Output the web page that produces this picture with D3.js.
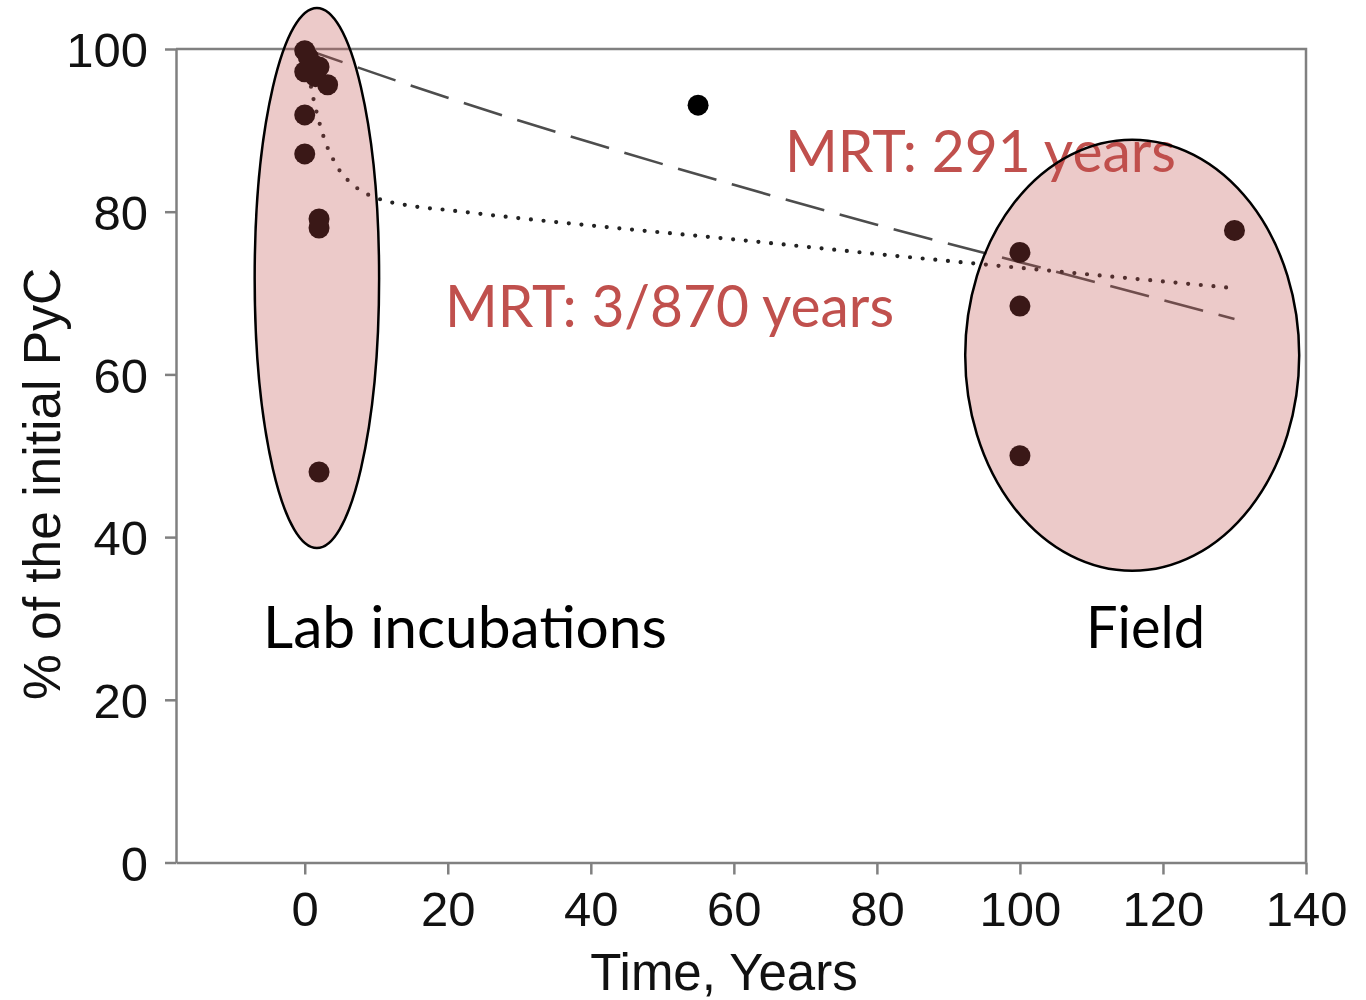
<!DOCTYPE html>
<html>
<head>
<meta charset="utf-8">
<script src="https://cdn.jsdelivr.net/npm/d3@7"></script>
<style>
  html, body { margin: 0; padding: 0; background: #fff; }
  svg { display: block; }
</style>
</head>
<body>
<svg id="chart" width="1366" height="1000"></svg>
<script>
// Observations: time since start (years) and % of the initial PyC remaining
const labTime    = [0, 0.5, 1, 0, 2, 1.5, 3.2, 0, 0, 2, 2, 2];
const labPercent = [99.8, 99.0, 98.2, 97.2, 97.8, 96.6, 95.6, 91.9, 87.1, 79.1, 78.0, 48.0];
const otherTime    = [55];
const otherPercent = [93.1];
const fieldTime    = [100, 100, 100, 130];
const fieldPercent = [75.0, 68.4, 50.0, 77.7];

// One-pool model curve (MRT 291 years), sampled
const onePoolTime    = [0, 20, 40, 60, 80, 100, 130];
const onePoolPercent = [100, 94.0, 88.5, 83.3, 78.4, 73.8, 66.8];

// Two-pool model curve (MRT 3 / 870 years), sampled
const twoPoolTime    = [0, 0.5, 1, 2, 3, 4, 5, 6, 8, 10, 15, 20, 30, 40, 60, 80, 100, 130];
const twoPoolPercent = [100, 97.2, 94.8, 91.1, 88.3, 86.4, 84.9, 83.9, 82.5, 81.7, 80.7, 80.2, 79.2, 78.3, 76.6, 74.8, 73.1, 70.6];

const xTicks = [0, 20, 40, 60, 80, 100, 120, 140];
const yTicks = [0, 20, 40, 60, 80, 100];

const svg = d3.select("#chart");
const axisFont = "'Liberation Sans', Arial, sans-serif";
const noteFont = "Lato, 'Open Sans', sans-serif";
const axisGrey = "#808080";
const noteRed = "#C0504D";

const x = d3.scaleLinear().domain([-18, 140]).range([176, 1306]);
const y = d3.scaleLinear().domain([0, 100]).range([862.5, 49]);

// Plot frame (top and right edges)
svg.append("path")
  .attr("d", `M${x(-18)},${y(100)}H${x(140)}V${y(0)}`)
  .attr("fill", "none")
  .attr("stroke", axisGrey)
  .attr("stroke-width", 2.5);

// Axes
const gx = svg.append("g")
  .attr("transform", `translate(0,${y(0)})`)
  .call(d3.axisBottom(x).tickValues(xTicks).tickSize(12).tickSizeOuter(0));
const gy = svg.append("g")
  .attr("transform", `translate(${x(-18)},0)`)
  .call(d3.axisLeft(y).tickValues(yTicks).tickSize(11).tickSizeOuter(0));

[gx, gy].forEach(g => {
  g.select(".domain").attr("stroke", axisGrey).attr("stroke-width", 2.5);
  g.selectAll(".tick line").attr("stroke", axisGrey).attr("stroke-width", 2.5);
  g.selectAll(".tick text")
    .attr("fill", "#111")
    .style("font-family", axisFont)
    .style("font-size", "49px");
});
gx.selectAll(".tick text").attr("y", 0).attr("dy", 0).attr("transform", "translate(0,63)");
gy.selectAll(".tick text").attr("x", -28).attr("dy", "0.36em");

// Axis titles
svg.append("text")
  .attr("x", 724).attr("y", 990)
  .attr("text-anchor", "middle")
  .attr("fill", "#111")
  .style("font-family", axisFont)
  .style("font-size", "51px")
  .text("Time, Years");

svg.append("text")
  .attr("transform", "translate(60,484) rotate(-90)")
  .attr("text-anchor", "middle")
  .attr("fill", "#111")
  .style("font-family", axisFont)
  .style("font-size", "51.5px")
  .text("% of the initial PyC");

// Model curves
const line = d3.line()
  .x(d => x(d[0]))
  .y(d => y(d[1]))
  .curve(d3.curveMonotoneX);

svg.append("path")
  .datum(d3.zip(onePoolTime, onePoolPercent))
  .attr("d", line)
  .attr("fill", "none")
  .attr("stroke", "#4d4d4d")
  .attr("stroke-width", 2.6)
  .attr("stroke-dasharray", "40 16");

svg.append("path")
  .datum(d3.zip(twoPoolTime, twoPoolPercent))
  .attr("d", line)
  .attr("fill", "none")
  .attr("stroke", "#222")
  .attr("stroke-width", 4.2)
  .attr("stroke-linecap", "round")
  .attr("stroke-dasharray", "0 12.7");

// Observations
const points = [
  ...d3.zip(labTime, labPercent),
  ...d3.zip(otherTime, otherPercent),
  ...d3.zip(fieldTime, fieldPercent)
];
svg.append("g")
  .selectAll("circle")
  .data(points)
  .join("circle")
  .attr("cx", d => x(d[0]))
  .attr("cy", d => y(d[1]))
  .attr("r", 10.5)
  .attr("fill", "#000");

// Mean residence time notes
svg.append("text")
  .attr("x", 785).attr("y", 172)
  .attr("fill", noteRed)
  .style("font-family", noteFont)
  .style("font-size", "58px")
  .attr("textLength", 391)
  .attr("lengthAdjust", "spacingAndGlyphs")
  .text("MRT: 291 years");

svg.append("text")
  .attr("x", 445).attr("y", 327)
  .attr("fill", noteRed)
  .style("font-family", noteFont)
  .style("font-size", "58px")
  .attr("textLength", 449)
  .attr("lengthAdjust", "spacingAndGlyphs")
  .text("MRT: 3/870 years");

// Group highlights, in data units
const groups = [
  { t: 1.7, p: 71.85, rt: 8.7, rp: 33.2 },
  { t: 115.7, p: 62.35, rt: 23.35, rp: 26.5 }
];
svg.append("g")
  .selectAll("ellipse")
  .data(groups)
  .join("ellipse")
  .attr("cx", d => x(d.t))
  .attr("cy", d => y(d.p))
  .attr("rx", d => x(d.rt) - x(0))
  .attr("ry", d => y(0) - y(d.rp))
  .attr("fill", noteRed)
  .attr("fill-opacity", 0.3)
  .attr("stroke", "#000")
  .attr("stroke-width", 2.5);

// Group labels
svg.append("text")
  .attr("x", 263).attr("y", 648)
  .attr("fill", "#000")
  .style("font-family", noteFont)
  .style("font-size", "58px")
  .attr("textLength", 404)
  .attr("lengthAdjust", "spacingAndGlyphs")
  .text("Lab incubations");

svg.append("text")
  .attr("x", 1086).attr("y", 648)
  .attr("fill", "#000")
  .style("font-family", noteFont)
  .style("font-size", "58px")
  .attr("textLength", 119)
  .attr("lengthAdjust", "spacingAndGlyphs")
  .text("Field");
</script>
</body>
</html>
